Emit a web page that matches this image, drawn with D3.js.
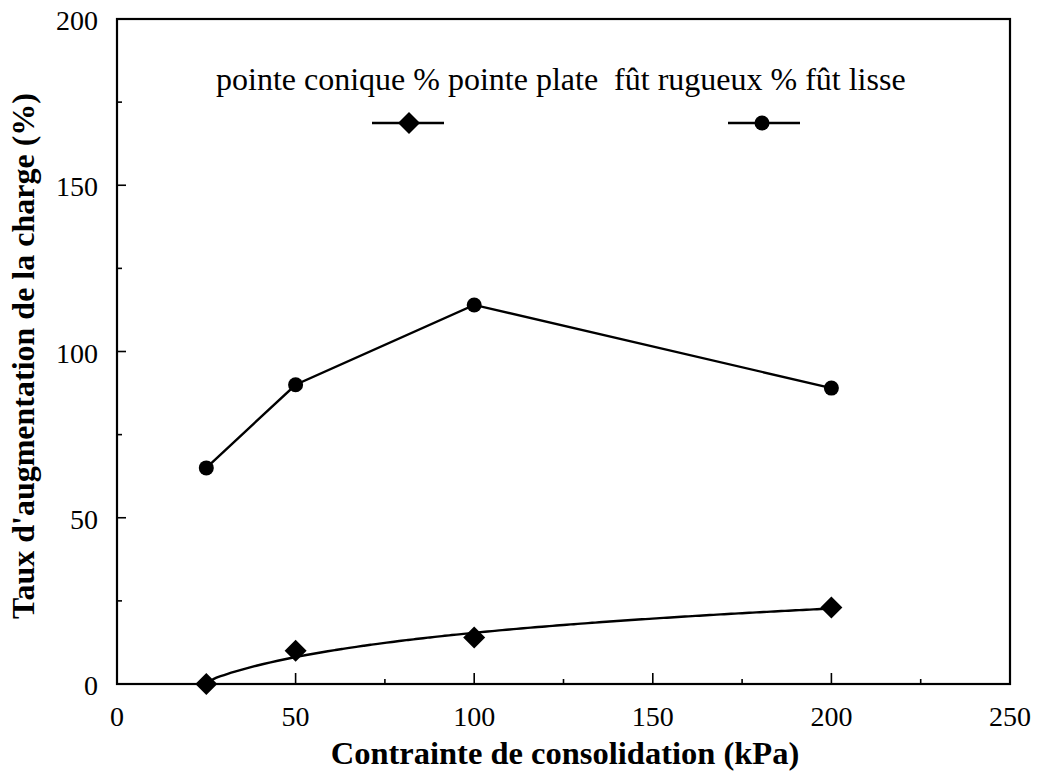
<!DOCTYPE html>
<html><head><meta charset="utf-8">
<script src="https://cdn.jsdelivr.net/npm/d3@7"></script>
<style>
body{margin:0;background:#fff;}
text{font-family:"Liberation Serif","Times New Roman",serif;fill:#000;}
</style></head>
<body><svg id="c" width="1039" height="774"></svg>
<script>
const xValues = [25, 50, 100, 200];
const pointeValues = [0, 10, 14, 23];      // pointe conique % pointe plate (diamonds)
const futValues = [65, 90, 114, 89];       // fût rugueux % fût lisse (circles)
const xTicks = [0, 50, 100, 150, 200, 250];
const yTicks = [0, 50, 100, 150, 200];
const legendLabel = "pointe conique % pointe plate  fût rugueux % fût lisse";
const xTitle = "Contrainte de consolidation (kPa)";
const yTitle = "Taux d'augmentation de la charge (%)";

const svg = d3.select("#c");
const L = 117, R = 1010, T = 19, B = 684;
const x = d3.scaleLinear().domain([0, 250]).range([L, R]);
const y = d3.scaleLinear().domain([0, 200]).range([B, T]);
const serif = "'Liberation Serif','Times New Roman',serif";

// frame
svg.append("rect").attr("x", L).attr("y", T).attr("width", R - L).attr("height", B - T)
  .attr("fill", "none").attr("stroke", "#000").attr("stroke-width", 2.2);

// ticks (inward)
const minorX = d3.range(0, 251, 25);
const minorY = d3.range(0, 201, 25);
svg.append("g").selectAll("line").data(minorX.filter(v => v > 0 && v < 250)).join("line")
  .attr("x1", d => x(d)).attr("x2", d => x(d))
  .attr("y1", B).attr("y2", d => B - (d % 50 === 0 ? 11 : 5))
  .attr("stroke", "#000").attr("stroke-width", 1.6);
svg.append("g").selectAll("line").data(minorY.filter(v => v > 0 && v < 200)).join("line")
  .attr("y1", d => y(d)).attr("y2", d => y(d))
  .attr("x1", L).attr("x2", d => L + (d % 50 === 0 ? 9 : 5))
  .attr("stroke", "#000").attr("stroke-width", 1.6);

// tick labels
svg.append("g").selectAll("text").data(xTicks).join("text")
  .attr("x", d => x(d)).attr("y", 726).attr("text-anchor", "middle")
  .attr("font-family", serif).attr("font-size", 28).text(d => d);
svg.append("g").selectAll("text").data(yTicks).join("text")
  .attr("x", 98).attr("y", d => y(d) + 11).attr("text-anchor", "end")
  .attr("font-family", serif).attr("font-size", 28).text(d => d);

// titles
svg.append("text").attr("x", 565).attr("y", 764).attr("text-anchor", "middle")
  .attr("font-family", serif).attr("font-size", 32.5).attr("font-weight", "bold").text(xTitle);
svg.append("text").attr("transform", "translate(34,356) rotate(-90)")
  .attr("text-anchor", "middle").attr("font-family", serif)
  .attr("font-size", 32).attr("font-weight", "bold").text(yTitle);

// log fit for pointe series (least squares on ln x)
const lx = xValues.map(Math.log);
const mx = d3.mean(lx), my = d3.mean(pointeValues);
const a = d3.sum(lx.map((v, i) => (v - mx) * (pointeValues[i] - my))) / d3.sum(lx.map(v => (v - mx) ** 2));
const b = my - a * mx;
const fitX = d3.range(xValues[0], xValues[xValues.length - 1] + 0.1, 2);
const fitPts = fitX.map(v => [v, Math.max(0, a * Math.log(v) + b)]);
fitPts[0][1] = pointeValues[0];

svg.append("path").datum(fitPts)
  .attr("d", d3.line().x(d => x(d[0])).y(d => y(d[1])).curve(d3.curveBasis))
  .attr("fill", "none").attr("stroke", "#000").attr("stroke-width", 2.4);

// fut series
svg.append("path").datum(xValues.map((v, i) => [v, futValues[i]]))
  .attr("d", d3.line().x(d => x(d[0])).y(d => y(d[1])))
  .attr("fill", "none").attr("stroke", "#000").attr("stroke-width", 2.4);

function diamondPath(cx, cy, r) {
  return `M${cx},${cy - r}L${cx + r},${cy}L${cx},${cy + r}L${cx - r},${cy}Z`;
}
svg.append("g").selectAll("path").data(xValues.map((v, i) => [v, pointeValues[i]])).join("path")
  .attr("d", d => diamondPath(x(d[0]), y(d[1]), 11)).attr("fill", "#000");
svg.append("g").selectAll("circle").data(xValues.map((v, i) => [v, futValues[i]])).join("circle")
  .attr("cx", d => x(d[0])).attr("cy", d => y(d[1])).attr("r", 7.5).attr("fill", "#000");

// legend
svg.append("text").attr("x", 216).attr("y", 90).attr("font-family", serif).attr("font-size", 32)
  .style("white-space", "pre").attr("xml:space", "preserve").text(legendLabel);
const lg = svg.append("g");
lg.append("line").attr("x1", 372).attr("x2", 444).attr("y1", 123).attr("y2", 123).attr("stroke", "#000").attr("stroke-width", 2.4);
lg.append("path").attr("d", diamondPath(409, 123, 11)).attr("fill", "#000");
lg.append("line").attr("x1", 728).attr("x2", 800).attr("y1", 123).attr("y2", 123).attr("stroke", "#000").attr("stroke-width", 2.4);
lg.append("circle").attr("cx", 762).attr("cy", 123).attr("r", 7.5).attr("fill", "#000");
</script></body></html>
